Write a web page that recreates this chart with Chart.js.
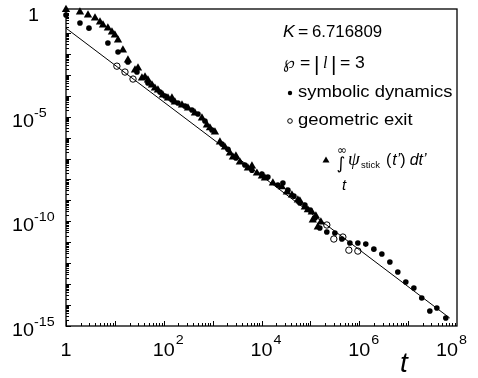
<!DOCTYPE html>
<html>
<head>
<meta charset="utf-8">
<script src="https://cdn.jsdelivr.net/npm/chart.js@4.4.1/dist/chart.umd.min.js"></script>
<style>
  html, body { margin: 0; padding: 0; background: #fff; }
  #wrap { width: 478px; height: 378px; }
</style>
</head>
<body>
<div id="wrap"><canvas id="chart" width="478" height="378"></canvas></div>
<script>
// integral of psi_stick (triangles)
const triT = [1, 1.93, 2.82, 3.92, 4.96, 5.71, 7.2, 8.7, 10, 11.6, 14.6, 18.5, 25.8, 29.7, 35.8, 41.3, 47.5, 57.4, 66, 76, 96, 122, 147, 169, 236, 313, 435, 604, 764, 881, 1114, 1410, 1786, 2260, 2600, 2995, 3615, 5270, 6370, 8050, 10190, 11740, 17100, 26100, 33000, 41900, 55500, 61000, 77200, 88900, 107000, 112000, 129500, 142000, 164000];
const triV = [1.3, 1.0, 0.72, 0.52, 0.33, 0.24, 0.17, 0.11, 0.08, 0.046, 0.0153, 5.1e-3, 1.7e-3, 2.1e-3, 7.0e-4, 7.8e-4, 5.6e-4, 3.25e-4, 2.3e-4, 1.87e-4, 1.08e-4, 7.8e-5, 7.8e-5, 5.0e-5, 3.6e-5, 2.6e-5, 1.5e-5, 8.6e-6, 4.0e-6, 2.9e-6, 1.85e-6, 6.2e-7, 3.5e-7, 1.83e-7, 1.18e-7, 1.32e-7, 6.8e-8, 3.5e-8, 4.4e-8, 2.0e-8, 1.46e-8, 1.17e-8, 6.8e-9, 4.4e-9, 2.5e-9, 1.8e-9, 1.04e-9, 9.3e-10, 4.8e-10, 3.5e-10, 2.8e-10, 1.15e-10, 1.8e-10, 5.3e-11, 9.3e-11];

// symbolic dynamics (filled dots)
const dotT = [1, 1.93, 2.95, 7.2, 11.6, 18.5, 28.3, 47.5, 83.6, 106, 147, 195, 272, 377, 501, 696, 968, 1550, 2055, 2995, 4570, 6370, 10200, 13500, 21600, 27400, 34700, 46000, 61000, 77200, 97700, 124000, 156000, 217000, 317000, 441000, 643000, 936000, 1.36e6, 1.99e6, 2.9e6, 4.23e6, 6.15e6, 8.97e6, 1.31e7, 1.9e7, 2.78e7, 3.87e7, 5.9e7];
const dotV = [0.72, 0.30, 0.17, 0.033, 0.0123, 4.1e-3, 1.36e-3, 4.1e-4, 1.5e-4, 9.7e-5, 6.2e-5, 4.5e-5, 3.2e-5, 2.1e-5, 1.34e-5, 6.2e-6, 2.3e-6, 4.9e-7, 2.8e-7, 1.06e-7, 4.9e-8, 2.8e-8, 1.8e-8, 1.3e-8, 5.4e-9, 6.8e-9, 3.1e-9, 1.6e-9, 7.5e-10, 6.0e-10, 3.5e-10, 1.44e-10, 4.8e-11, 3.1e-11, 2.76e-11, 1.43e-11, 9.2e-12, 9.2e-12, 8.2e-12, 4.7e-12, 2.74e-12, 1.14e-12, 3.8e-13, 1.26e-13, 6.5e-14, 2.16e-14, 5.2e-15, 7.2e-15, 2.4e-15];

// geometric exit (open circles)
const circT = [11.0, 16.1, 23.5, 217000, 302000, 462000, 613000, 936000];
const circV = [2.6e-3, 1.36e-3, 6.3e-4, 6.7e-11, 1.43e-11, 1.78e-11, 4.2e-12, 3.8e-12];

// straight power-law line
const fitT = [1, 7.1e7];
const fitV = [0.17, 2.4e-15];

// axis ticks: [main text, exponent]
const xTicks = [1, 1e2, 1e4, 1e6, 1e8];
const xTickLabels = [['1', ''], ['10', '2'], ['10', '4'], ['10', '6'], ['10', '8']];
const yTicks = [1, 1e-5, 1e-10, 1e-15];
const yTickLabels = [['1', ''], ['10', '-5'], ['10', '-10'], ['10', '-15']];

const pts = (xs, ys) => xs.map((x, i) => ({ x: x, y: ys[i] }));

// draw text with a little horizontal stretch, like the scanned figure
function txt(ctx, s, x, y, font, align, sx) {
  sx = sx || 1.1;
  ctx.save();
  ctx.font = font;
  ctx.textBaseline = 'alphabetic';
  const w = ctx.measureText(s).width * sx;
  let x0 = x;
  if (align === 'center') x0 = x - w / 2;
  if (align === 'right') x0 = x - w;
  ctx.translate(x0, y);
  ctx.scale(sx, 1);
  ctx.fillText(s, 0, 0);
  ctx.restore();
  return x0 + w;
}

const frame = {
  id: 'frame',
  afterDraw(chart) {
    const ctx = chart.ctx;
    const a = chart.chartArea;
    const xs = chart.scales.x, ys = chart.scales.y;
    ctx.save();
    ctx.fillStyle = '#000';
    ctx.strokeStyle = '#000';

    // box
    ctx.lineWidth = 1.3;
    ctx.strokeRect(a.left, a.top, a.right - a.left, a.bottom - a.top);

    // inward ticks
    ctx.lineWidth = 1;
    ctx.beginPath();
    for (let k = 0; k < 8; k++) {
      for (let m = 1; m < 10; m++) {
        const px = Math.round(xs.getPixelForValue(m * Math.pow(10, k))) + 0.5;
        const len = m === 1 ? 5 : 3;
        ctx.moveTo(px, a.bottom);
        ctx.lineTo(px, a.bottom - len);
      }
    }
    for (let k = -15; k < 0; k++) {
      for (let m = 1; m < 10; m++) {
        const py = Math.round(ys.getPixelForValue(m * Math.pow(10, k))) + 0.5;
        const len = m === 1 ? 5 : 3;
        ctx.moveTo(a.left, py);
        ctx.lineTo(a.left + len, py);
      }
    }
    ctx.stroke();

    // x tick labels (last one pulled in to fit, as in the figure)
    xTicks.forEach((v, i) => {
      let px = xs.getPixelForValue(v);
      if (i === xTicks.length - 1) px -= 10;
      const [main, exp] = xTickLabels[i];
      const end = txt(ctx, main, px, 356, '18px "Liberation Sans"', 'center');
      if (exp) txt(ctx, exp, end + 1, 344, '13px "Liberation Sans"', 'left');
    });
    // y tick labels
    yTicks.forEach((v, i) => {
      const py = ys.getPixelForValue(v);
      const [main, exp] = yTickLabels[i];
      if (!exp) {
        txt(ctx, main, 39, py + 9, '18px "Liberation Sans"', 'right');
      } else {
        txt(ctx, main, 34, py + 10, '18px "Liberation Sans"', 'right');
        txt(ctx, exp, 34, py, '13px "Liberation Sans"', 'left');
      }
    });

    // axis title t
    txt(ctx, 't', 404, 372, 'italic 28px "Liberation Sans"', 'center', 1);

    // annotation block
    txt(ctx, 'K', 283, 37, 'italic 16px "Liberation Sans"', 'left');
    txt(ctx, '=', 298, 37, '16px "Liberation Sans"', 'left');
    txt(ctx, '6.716809', 312, 37, '16px "Liberation Sans"', 'left', 1.05);

    txt(ctx, '\u2118', 283, 68, '17px "DejaVu Sans"', 'left', 1);
    txt(ctx, '=', 300, 68, '16px "Liberation Sans"', 'left');
    txt(ctx, '|', 314, 71, '21px "Liberation Sans"', 'left', 1);
    txt(ctx, 'l', 323, 68, 'italic 16px "Liberation Serif"', 'left', 1);
    txt(ctx, '|', 331, 71, '21px "Liberation Sans"', 'left', 1);
    txt(ctx, '=', 340, 68, '16px "Liberation Sans"', 'left');
    txt(ctx, '3', 355, 68, '16px "Liberation Sans"', 'left');

    ctx.beginPath();
    ctx.arc(290, 93, 2.2, 0, Math.PI * 2);
    ctx.fill();
    txt(ctx, 'symbolic dynamics', 298, 97, '16px "Liberation Sans"', 'left', 1.15);

    ctx.beginPath();
    ctx.arc(290, 121, 2.3, 0, Math.PI * 2);
    ctx.lineWidth = 1;
    ctx.stroke();
    txt(ctx, 'geometric exit', 298, 125, '16px "Liberation Sans"', 'left', 1.15);

    ctx.beginPath();
    ctx.moveTo(326, 156.5);
    ctx.lineTo(329.5, 162.5);
    ctx.lineTo(322.5, 162.5);
    ctx.closePath();
    ctx.fill();
    txt(ctx, '\u221E', 342, 154, '12px "DejaVu Sans"', 'center', 1);
    txt(ctx, '\u222B', 341, 169, '17px "DejaVu Sans"', 'center', 1);
    txt(ctx, 't', 344, 190, 'italic 15px "Liberation Sans"', 'center', 1);
    txt(ctx, '\u03C8', 348, 165, 'italic 19px "Liberation Serif"', 'left', 1);
    txt(ctx, 'stick', 361, 168, '9px "Liberation Sans"', 'left', 1.05);
    let xx = txt(ctx, '(', 386, 165, '16px "Liberation Sans"', 'left', 1);
    xx = txt(ctx, 't\u2019', xx + 1, 165, 'italic 16px "Liberation Sans"', 'left', 1);
    xx = txt(ctx, ')', xx, 165, '16px "Liberation Sans"', 'left', 1);
    txt(ctx, 'dt\u2019', xx + 4, 165, 'italic 16px "Liberation Sans"', 'left', 1);

    ctx.restore();
  }
};

new Chart(document.getElementById('chart'), {
  type: 'scatter',
  data: {
    datasets: [
      {
        type: 'line',
        data: pts(fitT, fitV),
        borderColor: '#000',
        borderWidth: 1,
        pointRadius: 0,
        fill: false
      },
      {
        data: pts(triT, triV),
        pointStyle: 'triangle',
        pointRadius: 4.8,
        backgroundColor: '#000',
        borderColor: '#000',
        borderWidth: 0,
        clip: false
      },
      {
        data: pts(dotT, dotV),
        pointStyle: 'circle',
        pointRadius: 2.8,
        backgroundColor: '#000',
        borderColor: '#000',
        borderWidth: 0,
        clip: false
      },
      {
        data: pts(circT, circV),
        pointStyle: 'circle',
        pointRadius: 3.2,
        backgroundColor: '#fff',
        borderColor: '#000',
        borderWidth: 1,
        clip: false
      }
    ]
  },
  options: {
    responsive: false,
    animation: false,
    layout: { padding: { left: 66, right: 21, top: 9, bottom: 52 } },
    plugins: { legend: { display: false }, tooltip: { enabled: false } },
    scales: {
      x: { type: 'logarithmic', min: 1, max: 1e8, display: false },
      y: { type: 'logarithmic', min: 1e-15, max: 1.4, display: false }
    }
  },
  plugins: [frame]
});
</script>
</body>
</html>
